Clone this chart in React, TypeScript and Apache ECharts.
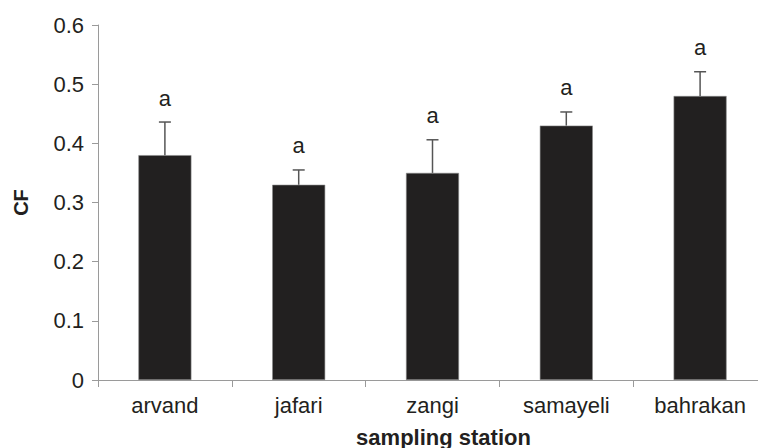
import React, { useEffect, useRef } from "react";
import * as echarts from "echarts";

const categories = ["arvand", "jafari", "zangi", "samayeli", "bahrakan"];
const means = [0.38, 0.33, 0.35, 0.43, 0.48];
const errors = [0.056, 0.025, 0.056, 0.023, 0.041];
const letters = ["a", "a", "a", "a", "a"];

const FONT = "Liberation Sans";
const TXT = "#231f20";

export default function App() {
  const ref = useRef<HTMLDivElement>(null);
  useEffect(() => {
    if (!ref.current) return;
    const chart = echarts.init(ref.current, undefined, { renderer: "svg" });
    const errData = categories.map((c, i) => [i, means[i], means[i] + errors[i], letters[i]]);
    chart.setOption({
      animation: false,
      backgroundColor: "#ffffff",
      textStyle: { fontFamily: FONT },
      grid: { left: 98, right: -9, top: 25, bottom: 68, containLabel: false, outerBoundsMode: "none" },
      xAxis: {
        type: "category",
        data: categories,
        axisLine: { lineStyle: { color: "#9a9a9a", width: 1 } },
        axisTick: { show: true, alignWithLabel: false, length: 7, lineStyle: { color: "#9a9a9a" } },
        axisLabel: { color: TXT, fontSize: 22, fontFamily: FONT, margin: 14 },
        name: "sampling station",
        nameLocation: "middle",
        nameGap: 46,
        nameTextStyle: { color: TXT, fontSize: 22, fontWeight: "bold", fontFamily: FONT, padding: [0, 0, 0, 22] },
      },
      yAxis: {
        type: "value",
        min: 0,
        max: 0.6,
        interval: 0.1,
        splitLine: { show: false },
        axisLine: { show: true, lineStyle: { color: "#9a9a9a", width: 1 } },
        axisTick: { show: true, length: 6, lineStyle: { color: "#9a9a9a" } },
        axisLabel: { color: TXT, fontSize: 22, fontFamily: FONT, margin: 14 },
        name: "CF",
        nameLocation: "middle",
        nameGap: 67,
        nameRotate: 90,
        nameTextStyle: { color: TXT, fontSize: 20, fontWeight: "bold", fontFamily: FONT },
      },
      series: [
        {
          type: "bar",
          data: means,
          barWidth: 53,
          itemStyle: { color: "#222020", borderColor: "#8a8a8a", borderWidth: 0.6 },
        },
        {
          type: "custom",
          data: errData,
          z: 10,
          renderItem: (params: any, api: any) => {
            const x = api.value(0);
            const top = api.coord([x, api.value(1)]);
            const hi = api.coord([x, api.value(2)]);
            const half = 6;
            const style = { stroke: "#555555", lineWidth: 1.5 };
            return {
              type: "group",
              children: [
                { type: "line", shape: { x1: top[0], y1: top[1], x2: hi[0], y2: hi[1] }, style },
                { type: "line", shape: { x1: hi[0] - half, y1: hi[1], x2: hi[0] + half, y2: hi[1] }, style },
                {
                  type: "text",
                  x: hi[0],
                  y: hi[1] - 24,
                  style: {
                    text: letters[params.dataIndex],
                    fill: TXT,
                    fontSize: 22,
                    fontFamily: FONT,
                    align: "center",
                    verticalAlign: "middle",
                  },
                },
              ],
            };
          },
        },
      ],
    });
    return () => chart.dispose();
  }, []);
  return (
    <div
      ref={ref}
      style={{ position: "fixed", left: 0, top: 0, width: 758, height: 448, background: "#fff" }}
    />
  );
}
